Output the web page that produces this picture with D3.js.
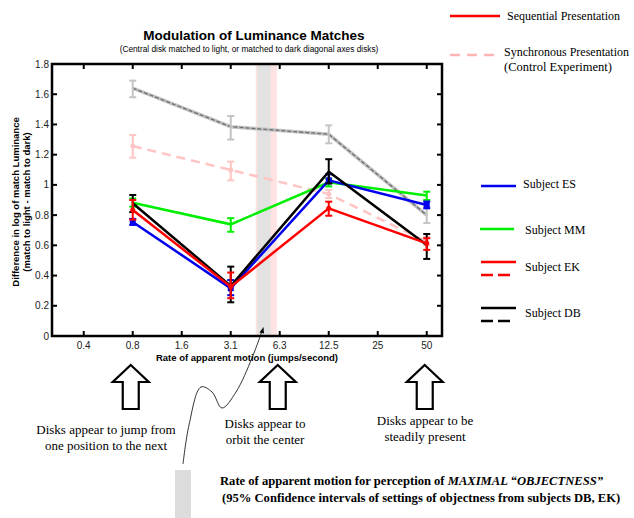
<!DOCTYPE html>
<html><head><meta charset="utf-8">
<script src="https://cdn.jsdelivr.net/npm/d3@7"></script>
<style>body{margin:0;background:#fff}svg{display:block}</style>
</head><body><svg id="c" width="634" height="518"></svg>
<script>
// ---- data ----
const xTickValues = [0.390625, 0.78125, 1.5625, 3.125, 6.25, 12.5, 25, 50];
const xTickLabels = ["0.4", "0.8", "1.6", "3.1", "6.3", "12.5", "25", "50"];
const yTickValues = [0, 0.2, 0.4, 0.6, 0.8, 1.0, 1.2, 1.4, 1.6, 1.8];
const yTickLabels = ["0", "0.2", "0.4", "0.6", "0.8", "1", "1.2", "1.4", "1.6", "1.8"];
const rates = [0.78125, 3.125, 12.5, 50];

const dbSyncMean = [1.64, 1.385, 1.335, 0.80];
const dbSyncLo   = [1.58, 1.30, 1.275, 0.748];
const dbSyncHi   = [1.69, 1.456, 1.394, 0.856];

const ekSyncMean = [1.257, 1.099, 0.94, 0.624];
const ekSyncLo   = [1.18, 1.03, 0.913, 0.60];
const ekSyncHi   = [1.33, 1.154, 0.966, 0.657];

const mmMean = [0.882, 0.739, 1.017, 0.93];
const mmLo   = [0.856, 0.69, 0.99, 0.90];
const mmHi   = [0.91, 0.78, 1.04, 0.955];

const esMean = [0.755, 0.316, 1.03, 0.867];
const esLo   = [0.735, 0.27, 1.01, 0.845];
const esHi   = [0.775, 0.37, 1.07, 0.89];

const ekMean = [0.834, 0.326, 0.845, 0.613];
const ekLo   = [0.77, 0.25, 0.796, 0.57];
const ekHi   = [0.90, 0.42, 0.889, 0.647];

const dbMean = [0.878, 0.331, 1.087, 0.602];
const dbLo   = [0.82, 0.223, 1.01, 0.51];
const dbHi   = [0.933, 0.459, 1.17, 0.675];

const bandOuter = [4.45, 6.0];   // pink
const bandInner = [4.55, 5.5];   // gray

const title = "Modulation of Luminance Matches";
const subtitle = "(Central disk matched to light, or matched to dark diagonal axes disks)";
const xTitle = "Rate of apparent motion (jumps/second)";
const yTitle = ["Difference in log of match Luminance", "(match to light - match to dark)"];
const arrowRates = [0.78125, 6.25, 50];
const arrowTexts = [
  ["Disks appear to jump from", "one position to the next"],
  ["Disks appear to", "orbit the center"],
  ["Disks appear to be", "steadily present"]
];

// ---- drawing ----
const svg = d3.select("#c");
const L = 52, R = 442, T = 64, B = 336;
const x = d3.scaleLog().base(2).domain([0.2493, 62.05]).range([L, R]);
const y = d3.scaleLinear().domain([0, 1.8]).range([B, T]);
const sans = "'Liberation Sans', Arial, sans-serif";
const serif = "'Liberation Serif', 'Times New Roman', serif";

// band
svg.append("rect").attr("x", x(bandOuter[0])).attr("width", x(bandOuter[1]) - x(bandOuter[0]))
  .attr("y", T).attr("height", B - T).attr("fill", "#ffe2e2");
svg.append("rect").attr("x", x(bandInner[0])).attr("width", x(bandInner[1]) - x(bandInner[0]))
  .attr("y", T).attr("height", B - T).attr("fill", "#e2e2e2");

function series(mean, lo, hi, opt) {
  const pts = rates.map((r, i) => ({x: x(r), y: y(mean[i]), lo: y(lo[i]), hi: y(hi[i])}));
  const line = d3.line().x(d => d.x).y(d => d.y);
  const g = svg.append("g");
  if (opt.under) {
    g.append("path").attr("d", line(pts)).attr("fill", "none")
      .attr("stroke", opt.under).attr("stroke-width", opt.underW);
  }
  g.append("path").attr("d", line(pts)).attr("fill", "none")
    .attr("stroke", opt.color).attr("stroke-width", opt.w)
    .attr("stroke-dasharray", opt.dash || null);
  const ec = opt.errColor || opt.color;
  pts.forEach(p => {
    g.append("line").attr("x1", p.x).attr("x2", p.x).attr("y1", p.lo).attr("y2", p.hi)
      .attr("stroke", ec).attr("stroke-width", 2);
    [p.lo, p.hi].forEach(v => g.append("line").attr("x1", p.x - 3.5).attr("x2", p.x + 3.5)
      .attr("y1", v).attr("y2", v).attr("stroke", ec).attr("stroke-width", 2));
    if (opt.marker === "square") {
      g.append("rect").attr("x", p.x - 3).attr("y", p.y - 3).attr("width", 6).attr("height", 6).attr("fill", opt.color);
    } else if (opt.marker === "dot") {
      g.append("circle").attr("cx", p.x).attr("cy", p.y).attr("r", 2.5).attr("fill", ec);
    }
  });
}

series(dbSyncMean, dbSyncLo, dbSyncHi, {color: "#6e6e6e", w: 1.3, dash: "4,2", under: "#c4c4c4", underW: 3.6, errColor: "#c4c4c4"});
series(ekSyncMean, ekSyncLo, ekSyncHi, {color: "#ffc4c4", w: 2.5, dash: "9,6", marker: "dot"});
series(mmMean, mmLo, mmHi, {color: "#00ee00", w: 2.5});
series(esMean, esLo, esHi, {color: "#0000ee", w: 2.5, marker: "square"});
series(dbMean, dbLo, dbHi, {color: "#000000", w: 2.5});
series(ekMean, ekLo, ekHi, {color: "#ff0000", w: 2.5, marker: "dot"});

// frame & ticks
svg.append("rect").attr("x", L).attr("y", T).attr("width", R - L).attr("height", B - T)
  .attr("fill", "none").attr("stroke", "#000").attr("stroke-width", 2.5);
const tk = 5;
xTickValues.forEach((v, i) => {
  const xx = x(v);
  svg.append("line").attr("x1", xx).attr("x2", xx).attr("y1", B).attr("y2", B - tk).attr("stroke", "#000").attr("stroke-width", 2);
  svg.append("line").attr("x1", xx).attr("x2", xx).attr("y1", T).attr("y2", T + tk).attr("stroke", "#000").attr("stroke-width", 2);
  svg.append("text").attr("x", xx).attr("y", 348.5).attr("text-anchor", "middle")
    .attr("font-family", sans).attr("font-size", 10).attr("fill", "#222").text(xTickLabels[i]);
});
yTickValues.forEach((v, i) => {
  const yy = y(v);
  svg.append("line").attr("x1", L).attr("x2", L + tk).attr("y1", yy).attr("y2", yy).attr("stroke", "#000").attr("stroke-width", 2);
  svg.append("line").attr("x1", R).attr("x2", R - tk).attr("y1", yy).attr("y2", yy).attr("stroke", "#000").attr("stroke-width", 2);
  svg.append("text").attr("x", 49).attr("y", yy + 3.5).attr("text-anchor", "end")
    .attr("font-family", sans).attr("font-size", 10).attr("fill", "#222").text(yTickLabels[i]);
});

// titles
svg.append("text").attr("x", 254).attr("y", 40).attr("text-anchor", "middle")
  .attr("font-family", sans).attr("font-weight", "bold").attr("font-size", 13.5).text(title);
svg.append("text").attr("x", 249).attr("y", 52).attr("text-anchor", "middle")
  .attr("font-family", sans).attr("font-size", 8.3).text(subtitle);
svg.append("text").attr("x", 247).attr("y", 361).attr("text-anchor", "middle")
  .attr("font-family", sans).attr("font-weight", "bold").attr("font-size", 9.5).text(xTitle);
yTitle.forEach((t, i) => {
  svg.append("text").attr("transform", `translate(${19 + i * 11},202) rotate(-90)`)
    .attr("text-anchor", "middle").attr("font-family", sans).attr("font-weight", "bold")
    .attr("font-size", 9.5).text(t);
});

// legend
function legLine(x1, x2, yy, color, dash, w) {
  svg.append("line").attr("x1", x1).attr("x2", x2).attr("y1", yy).attr("y2", yy)
    .attr("stroke", color).attr("stroke-width", w || 2.5).attr("stroke-dasharray", dash || null);
}
function legText(xx, yy, t, fs) {
  svg.append("text").attr("x", xx).attr("y", yy + 4).attr("font-family", serif).attr("font-size", fs || 12).text(t);
}
legLine(450, 500, 16, "#ff0000");
legText(507, 16, "Sequential Presentation");
legLine(450, 500, 55, "#ffb4b4", "10,7");
legText(504, 52, "Synchronous Presentation", 12);
legText(504, 67, "(Control Experiment)", 12.5);
legLine(481, 516, 186, "#0000ee");
legText(523, 184, "Subject ES");
legLine(480, 514, 229, "#00ee00");
legText(525, 230, "Subject MM");
legLine(481, 516, 262, "#ff0000");
legLine(481, 511, 275, "#ff0000", "12,5");
legText(525, 267, "Subject EK");
legLine(481, 516, 308, "#000");
legLine(481, 511, 321, "#000", "12,5");
legText(525, 313, "Subject DB");

// hollow arrows
arrowRates.forEach((r, i) => {
  const cx = x(r) - 2, tip = 365, hb = 382, bot = 409, hw = 18, sw = 8;
  const pts = [[cx, tip], [cx + hw, hb], [cx + sw, hb], [cx + sw, bot], [cx - sw, bot], [cx - sw, hb], [cx - hw, hb]];
  svg.append("path").attr("d", d3.line()(pts) + "Z").attr("fill", "#fff").attr("stroke", "#000").attr("stroke-width", 2.2);
});
const textCx = [106, 265, 425], textY = [434, 428, 425];
arrowTexts.forEach((lines, i) => {
  lines.forEach((t, j) => {
    svg.append("text").attr("x", textCx[i]).attr("y", textY[i] + j * 16).attr("text-anchor", "middle")
      .attr("font-family", serif).attr("font-size", 13).text(t);
  });
});

// squiggle annotation
const curve = [[183, 464], [189, 425], [201, 387], [212, 392], [222, 408], [236, 392], [252, 358], [262, 331]];
svg.append("path").attr("d", d3.line().curve(d3.curveCatmullRom)(curve))
  .attr("fill", "none").attr("stroke", "#000").attr("stroke-width", 0.8);
svg.append("path").attr("d", "M263.5,327 L259.5,332.5 L264,333.5 Z").attr("fill", "#000");

// bottom note
svg.append("rect").attr("x", 175).attr("y", 470).attr("width", 16).attr("height", 48).attr("fill", "#dcdcdc");
const note = svg.append("text").attr("x", 220).attr("y", 485).attr("font-family", serif)
  .attr("font-weight", "bold").attr("font-size", 12.6);
note.append("tspan").text("Rate of apparent motion for perception of ");
note.append("tspan").attr("font-style", "italic").text("MAXIMAL \u201cOBJECTNESS\u201d");
svg.append("text").attr("x", 222).attr("y", 502).attr("font-family", serif)
  .attr("font-weight", "bold").attr("font-size", 12.6)
  .text("(95% Confidence intervals of settings of objectness from subjects DB, EK)");
</script></body></html>
